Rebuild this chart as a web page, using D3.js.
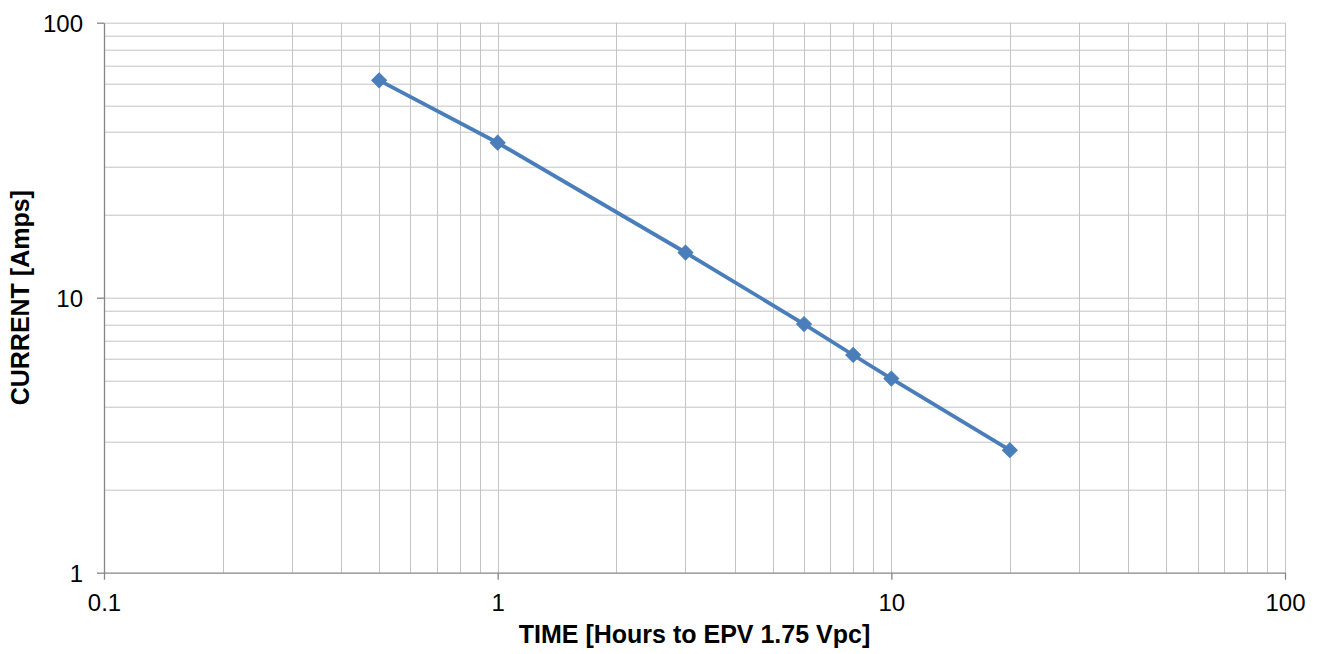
<!DOCTYPE html>
<html>
<head>
<meta charset="utf-8">
<script src="https://cdn.jsdelivr.net/npm/d3@7"></script>
<style>
  body { margin: 0; background: #fff; }
  text { font-family: "Liberation Sans", Arial, sans-serif; }
</style>
</head>
<body>
<div class="chart"></div>
<script>
// chart data
var hours = [0.5, 1, 3, 6, 8, 10, 20];
var amps = [61.7, 36.6, 14.6, 8.02, 6.19, 5.08, 2.79];
var xTickLabels = ["0.1", "1", "10", "100"];
var yTickLabels = ["1", "10", "100"];

var svgWidth = 1319;
var svgHeight = 654;
var margin = {top: 22.7, right: 34, bottom: 81.3, left: 104};
var chartWidth = svgWidth - margin.left - margin.right;
var chartHeight = svgHeight - margin.top - margin.bottom;

var svg = d3.select(".chart")
  .append("svg")
  .attr("width", svgWidth)
  .attr("height", svgHeight);

var chart = svg.append("g")
  .attr("transform", "translate(" + margin.left + "," + margin.top + ")");

var xScale = d3.scaleLog().domain([0.1, 100]).range([0, chartWidth]);
var yScale = d3.scaleLog().domain([1, 100]).range([chartHeight, 0]);

// grid lines, major + minor
var xMajor = xTickLabels.map(Number);
var yMajor = yTickLabels.map(Number);
var xGrid = xScale.ticks().filter(function(d) { return d > 0.1; });
var yGrid = yScale.ticks().filter(function(d) { return d > 1; });

chart.append("g").selectAll("line")
  .data(xGrid)
  .enter().append("line")
  .attr("x1", function(d) { return Math.round(xScale(d)) + 0.5; })
  .attr("x2", function(d) { return Math.round(xScale(d)) + 0.5; })
  .attr("y1", 0)
  .attr("y2", chartHeight)
  .attr("stroke", "#c4c4c4")
  .attr("stroke-width", 1);

chart.append("g").selectAll("line")
  .data(yGrid)
  .enter().append("line")
  .attr("y1", function(d) { return Math.round(yScale(d)) + 0.5; })
  .attr("y2", function(d) { return Math.round(yScale(d)) + 0.5; })
  .attr("x1", 0)
  .attr("x2", chartWidth)
  .attr("stroke", "#c4c4c4")
  .attr("stroke-width", 1);

// axes
var bottomAxis = d3.axisBottom(xScale)
  .tickValues(xMajor)
  .tickSizeInner(7)
  .tickSizeOuter(0)
  .tickPadding(14)
  .tickFormat(function(d, i) { return xTickLabels[i]; });

var leftAxis = d3.axisLeft(yScale)
  .tickValues(yMajor)
  .tickSizeInner(7)
  .tickSizeOuter(0)
  .tickPadding(14)
  .tickFormat(function(d, i) { return yTickLabels[i]; });

var gx = chart.append("g")
  .attr("transform", "translate(0," + chartHeight + ")")
  .call(bottomAxis);

var gy = chart.append("g")
  .call(leftAxis);

[gx, gy].forEach(function(g) {
  g.select(".domain").attr("stroke", "#868686").attr("stroke-width", 1.3);
  g.selectAll(".tick line").attr("stroke", "#868686").attr("stroke-width", 1.3);
  g.selectAll(".tick text")
    .attr("fill", "#000")
    .style("font-size", "24px")
    .style("font-family", "'Liberation Sans', Arial, sans-serif");
});
gy.selectAll(".tick text").attr("dy", "0.35em");

// series line
var line = d3.line()
  .x(function(d, i) { return xScale(hours[i]); })
  .y(function(d) { return yScale(d); });

chart.append("path")
  .datum(amps)
  .attr("d", line)
  .attr("fill", "none")
  .attr("stroke", "#4a7ebb")
  .attr("stroke-width", 3.8)
  .attr("stroke-linejoin", "round");

// diamond markers
var diamond = d3.symbol().type(d3.symbolSquare).size(110);
chart.append("g").selectAll("path")
  .data(amps)
  .enter().append("path")
  .attr("d", diamond)
  .attr("transform", function(d, i) {
    return "translate(" + xScale(hours[i]) + "," + yScale(d) + ") rotate(45)";
  })
  .attr("fill", "#4a7ebb")
  .attr("stroke", "#4a7ebb")
  .attr("stroke-width", 1);

// axis titles
svg.append("text")
  .attr("x", margin.left + chartWidth / 2)
  .attr("y", 643)
  .attr("text-anchor", "middle")
  .style("font-size", "25px")
  .style("font-weight", "bold")
  .text("TIME [Hours to EPV 1.75 Vpc]");

svg.append("text")
  .attr("transform", "translate(29," + (margin.top + chartHeight / 2) + ") rotate(-90)")
  .attr("text-anchor", "middle")
  .style("font-size", "25px")
  .style("font-weight", "bold")
  .text("CURRENT [Amps]");
</script>
</body>
</html>
